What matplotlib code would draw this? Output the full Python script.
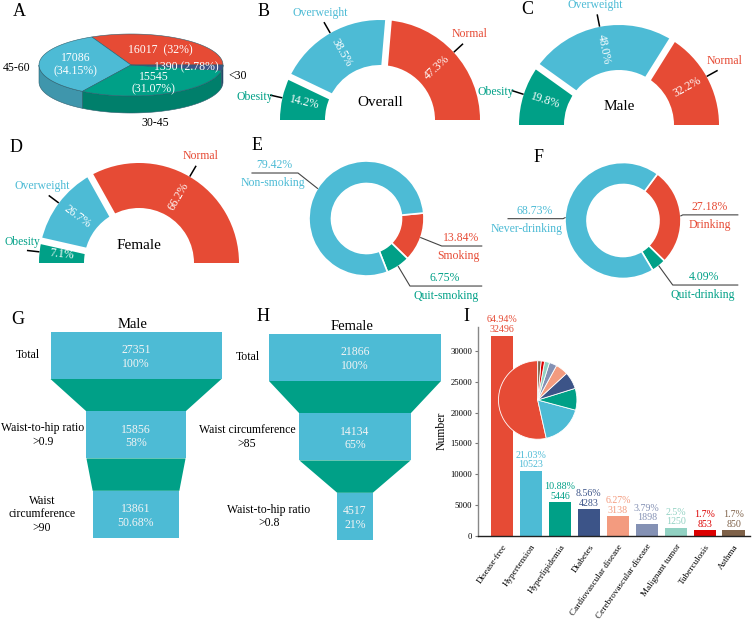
import numpy as np
import matplotlib
matplotlib.use('Agg')
import matplotlib.pyplot as plt
from matplotlib.patches import Wedge, Polygon, Rectangle

plt.rcParams['font.family'] = ['Liberation Serif', 'DejaVu Serif']

# ---------------- data ----------------
age_counts = [16017, 17086, 15545, 1390]
age_pct = ['32', '34.15', '31.07', '2.78']
age_labels = ['', '45-60', '30-45', '<30']

bmi_cats = ['Obesity', 'Overweight', 'Normal']
bmi_overall = [14.2, 38.5, 47.3]
bmi_male = [19.8, 48.0, 32.2]
bmi_female = [7.1, 26.7, 66.2]

smoke_cats = ['Non-smoking', 'Smoking', 'Quit-smoking']
smoke_pct = [79.42, 13.84, 6.75]
drink_cats = ['Never-drinking', 'Drinking', 'Quit-drinking']
drink_pct = [68.73, 27.18, 4.09]

male_steps = ['Total', 'Waist-to-hip ratio\n>0.9', 'Waist\ncircumference\n>90']
male_n = [27351, 15856, 13861]
male_pct = ['100%', '58%', '50.68%']
female_steps = ['Total', 'Waist circumference\n>85', 'Waist-to-hip ratio\n>0.8']
female_n = [21866, 14134, 4517]
female_pct = ['100%', '65%', '21%']

diseases = ['Disease-free', 'Hypertension', 'Hyperlipidemia', 'Diabetes',
            'Cardiovascular disease', 'Cerebrovascular disease', 'Malignant tumor',
            'Tuberculosis', 'Asthma']
disease_n = [32496, 10523, 5446, 4283, 3138, 1898, 1250, 853, 850]
disease_pct = ['64.94%', '21.03%', '10.88%', '8.56%', '6.27%', '3.79%', '2.5%', '1.7%', '1.7%']

# ---------------- style ----------------
RED = '#E64B35'; BLUE = '#4DBBD5'; TEAL = '#00A087'; NAVY = '#3C5488'
NPG = ['#E64B35', '#4DBBD5', '#00A087', '#3C5488', '#F39B7F', '#8491B4',
       '#91D1C2', '#DC0000', '#7E6148']

W, H = 753, 625
fig = plt.figure(figsize=(W / 100, H / 100), dpi=100)


def px_axes(x0, y0, x1, y1, cx=None, cy=None):
    ax = fig.add_axes([x0 / W, 1 - y1 / H, (x1 - x0) / W, (y1 - y0) / H])
    if cx is not None:
        ax.set_xlim(x0 - cx, x1 - cx)
        ax.set_ylim(cy - y1, cy - y0)
    ax.axis('off')
    return ax


def letter(x, y, s):
    fig.text(x / W, 1 - y / H, s, ha='center', va='center', fontsize=13)


# ---------------- A: 3D pie ----------------
axA = px_axes(0, 20, 260, 135, cx=131, cy=65)
rx, ry, dep = 92, 31, 17
fr = np.array(age_counts) / sum(age_counts)
edges = 360 * np.concatenate([[0], np.cumsum(fr)])
top_cols = [RED, BLUE, TEAL, NAVY]
side_cols = ['#B83A28', '#3F96AC', '#007F6B', '#2B3E66']
for i in range(4):
    a0, a1 = max(edges[i], 180), min(edges[i + 1], 360)
    if a1 > a0:
        t = np.radians(np.linspace(a0, a1, 80))
        xs, ys = rx * np.cos(t), ry * np.sin(t)
        poly = np.column_stack([np.concatenate([xs, xs[::-1]]),
                                np.concatenate([ys, ys[::-1] - dep])])
        axA.add_patch(Polygon(poly, closed=True, fc=side_cols[i], ec='#2d5f6e', lw=0.4))
for i in range(4):
    t = np.radians(np.linspace(edges[i], edges[i + 1], 120))
    poly = np.column_stack([np.concatenate([[0], rx * np.cos(t)]),
                            np.concatenate([[0], ry * np.sin(t)])])
    axA.add_patch(Polygon(poly, closed=True, fc=top_cols[i], ec='#2d5f6e', lw=0.4))
seps = ['  ', '\n', '\n', ' ']
outer_pos = [None, (-114, -3), (24, -58), (107, -11)]
for i in range(4):
    m = np.radians((edges[i] + edges[i + 1]) / 2)
    axA.text(0.6 * rx * np.cos(m), 0.6 * ry * np.sin(m) - 1,
             f'{age_counts[i]}{seps[i]}({age_pct[i]}%)', color='white',
             ha='center', va='center', fontsize=8.5, linespacing=1.1)
    if age_labels[i]:
        axA.text(outer_pos[i][0], outer_pos[i][1], age_labels[i], ha='center',
                 va='center', fontsize=8.5, clip_on=False)


# ---------------- B, C, D: half donuts ----------------
def half_donut(ax, vals, title, R=100, r=55):
    fr = np.array(vals) / sum(vals)
    eds = 180 - 180 * np.concatenate([[0], np.cumsum(fr)])
    cols = [TEAL, BLUE, RED]
    for i in range(3):
        ax.add_patch(Wedge((0, 0), R, eds[i + 1], eds[i], width=R - r, fc=cols[i], ec='none'))
    for e in eds[1:-1]:
        t = np.radians(e)
        ax.plot([(r - 6) * np.cos(t), (R + 6) * np.cos(t)],
                [(r - 6) * np.sin(t), (R + 6) * np.sin(t)],
                color='white', lw=4.8, solid_capstyle='butt')
    for i in range(3):
        m = (eds[i] + eds[i + 1]) / 2
        t = np.radians(m)
        c, s = np.cos(t), np.sin(t)
        rot = m if m <= 90 else m - 180
        ax.text((R + r) / 2 * c, (R + r) / 2 * s, f'{vals[i]:.1f}%', rotation=rot,
                rotation_mode='anchor', ha='center', va='center', color='white',
                fontsize=8.5, clip_on=True)
        ax.plot([(R + 1) * c, (R + 12) * c], [(R + 1) * s, (R + 12) * s],
                color='black', lw=1.1, clip_on=False)
        if abs(c) > 0.9 and s < 0.15:
            ax.text((R + 9) * c + 10, (R + 12) * s + 3, bmi_cats[i], color=cols[i],
                    ha='right', va='bottom', fontsize=8.3, clip_on=False)
        elif abs(c) > 0.9:
            ax.text((R + 10) * c, (R + 10) * s - 1, bmi_cats[i], color=cols[i],
                    ha='right' if c < 0 else 'left', va='center', fontsize=8.5, clip_on=False)
        else:
            ax.text((R + 12) * c + 9 * c, (R + 12) * s + 10, bmi_cats[i], color=cols[i],
                    ha='center', va='center', fontsize=8.5, clip_on=False)
    ax.text(0, 18, title, ha='center', va='center', fontsize=11)


half_donut(px_axes(230, 0, 500, 120, cx=380, cy=120), bmi_overall, 'Overall')
half_donut(px_axes(470, 0, 753, 125, cx=619, cy=125), bmi_male, 'Male')
half_donut(px_axes(0, 140, 260, 263, cx=139, cy=263), bmi_female, 'Female')


# ---------------- E, F: donuts ----------------
def donut(ax, vals, cats, start, R, r, layout):
    fr = np.array(vals) / sum(vals)
    cols = [BLUE, RED, TEAL]
    order = [1, 2, 0]
    a = start
    for i in order:
        span = 360 * fr[i]
        ax.add_patch(Wedge((0, 0), R, a - span, a, width=R - r, fc=cols[i],
                           ec='white', lw=1.2))
        m = np.radians(a - span / 2)
        sx, sy = R * np.cos(m), R * np.sin(m)
        dx, dy, L, nx = layout[i]
        ex, ey = sx + dx, sy + dy
        dirn = 1 if np.cos(m) > 0 else -1
        fx = ex + dirn * L
        ax.plot([sx, ex, fx], [sy, ey, ey], color='#444444', lw=0.8, clip_on=False)
        xc = (ex + fx) / 2
        ax.text(xc - 1, ey + 8, f'{vals[i]:.2f}%', color=cols[i], ha='center', va='center',
                fontsize=8.5, clip_on=False)
        ax.text(xc + nx, ey - 10, cats[i], color=cols[i], ha='center', va='center',
                fontsize=8.5, clip_on=False, zorder=5)
        a -= span


donut(px_axes(240, 160, 490, 300, cx=366.5, cy=218.5), smoke_pct, smoke_cats, 5.5, 57.5, 35,
      [(-19.5, 15.4, 46, -2), (21, -8.4, 40, -3), (11.7, -19.6, 71.7, 0)])
donut(px_axes(485, 160, 753, 300, cx=623, cy=220.5), drink_pct, drink_cats, 53.5, 58, 36,
      [(-2, -1, 55, -9), (2, 1, 55, 0), (13.8, -19, 65, -2)])


# ---------------- G, H: funnels ----------------
def funnel(ax, steps, n, pct, title, label_x):
    tot = n[0]
    h = 47 / 79.4
    for i in range(3):
        w = n[i] / tot
        ax.add_patch(Rectangle((-w / 2, i - h / 2), w, h, fc=BLUE, ec='none'))
        ax.text(0, i + 0.02, f'{n[i]}\n{pct[i]}', ha='center', va='center', color='#f4f4f4',
                fontsize=8.5, linespacing=1.2)
        ax.text(label_x[i], i, steps[i], ha='center', va='center', fontsize=8.5,
                linespacing=1.15, clip_on=False)
        if i < 2:
            w2 = n[i + 1] / tot
            ax.add_patch(Polygon([(-w / 2, i + h / 2), (w / 2, i + h / 2),
                                  (w2 / 2, i + 1 - h / 2), (-w2 / 2, i + 1 - h / 2)],
                                 closed=True, fc=TEAL, ec='none'))
    ax.text(-0.02, -0.39, title, ha='center', va='center', fontsize=10.5)


axG = px_axes(0, 315, 240, 545)
axG.set_xlim(-136 / 171, 104 / 171)
axG.set_ylim((545 - 355.5) / 79.4, (315 - 355.5) / 79.4)
funnel(axG, male_steps, male_n, male_pct, 'Male', [-0.632, -0.544, -0.55])

axH = px_axes(180, 315, 460, 545)
axH.set_xlim((180 - 355) / 172, (460 - 355) / 172)
axH.set_ylim((545 - 357.5) / 79.4, (315 - 357.5) / 79.4)
funnel(axH, female_steps, female_n, female_pct, 'Female', [-0.622, -0.628, -0.5])

# ---------------- I: bar chart ----------------
x0, x1, y0, y1 = 477.7, 750, 326.7, 535.7
axI = fig.add_axes([x0 / W, 1 - y1 / H, (x1 - x0) / W, (y1 - y0) / H])
xs = np.arange(len(diseases))
axI.bar(xs, disease_n, width=0.78, color=NPG)
for xi, v, p, c in zip(xs, disease_n, disease_pct, NPG):
    axI.text(xi, v + 250, f'{p}\n{v}', ha='center', va='bottom', color=c,
             fontsize=7.2, linespacing=1.1, clip_on=False)
axI.set_xlim(-0.84, 8.56)
axI.set_ylim(0, 33950)
axI.set_yticks([0, 5000, 10000, 15000, 20000, 25000, 30000])
axI.set_xticks(xs)
axI.set_xticklabels(diseases, rotation=55, ha='right', rotation_mode='anchor', fontsize=6.6)
axI.tick_params(axis='x', length=0, pad=5)
axI.tick_params(axis='y', length=2.5, width=0.8, colors='#777777', labelsize=6.2, pad=1.5,
                labelcolor='black')
for s in ['top', 'right']:
    axI.spines[s].set_visible(False)
axI.spines['left'].set_color('#888888')
axI.spines['left'].set_linewidth(1.0)
axI.spines['bottom'].set_color('#222222')
axI.spines['bottom'].set_linewidth(1.0)
axI.patch.set_alpha(0)
axI.set_ylabel('Number', fontsize=8.5, labelpad=2)

axP = fig.add_axes([497.7 / W, 1 - 440 / H, 80 / W, 80 / H])
axP.pie(disease_n, colors=NPG, startangle=90, counterclock=True,
        wedgeprops=dict(edgecolor='white', linewidth=0.6))
axP.set_xlim(-1.02, 1.02)
axP.set_ylim(-1.02, 1.02)
axP.set_aspect('auto')

# ---------------- panel letters ----------------
letter(19, 11, 'A')
letter(264, 11, 'B')
letter(527, 9, 'C')
letter(16, 147, 'D')
letter(257, 146, 'E')
letter(539, 158, 'F')
letter(18, 320, 'G')
letter(263, 316, 'H')
letter(466, 316, 'I')

fig.savefig('out.png', dpi=100)
